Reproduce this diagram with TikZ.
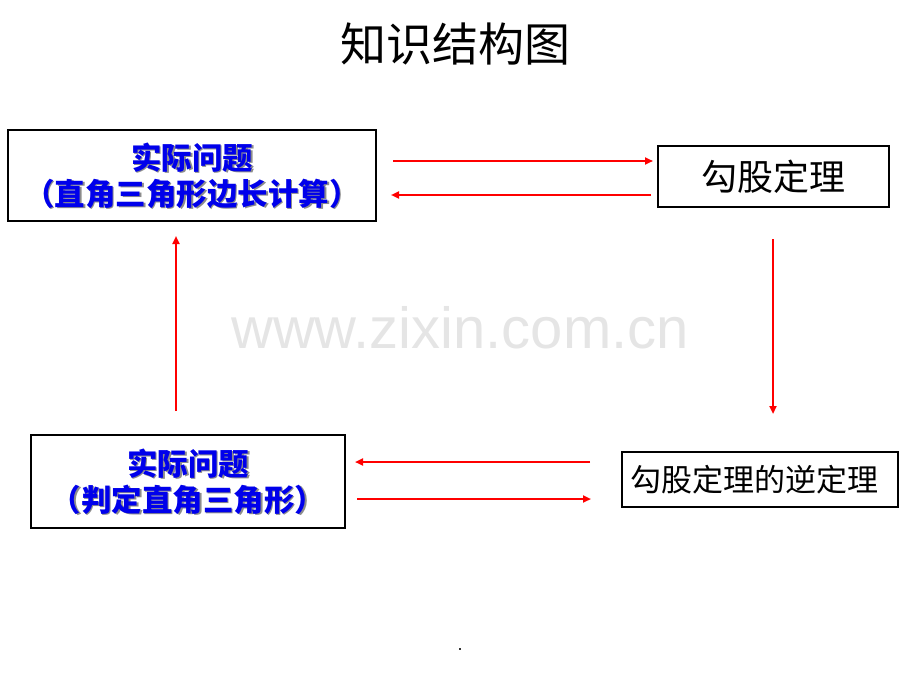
\documentclass[tikz,border=0pt]{standalone}
\usepackage{fontspec}
\setmainfont{Liberation Sans}
\newfontfamily\cjk{Noto Sans CJK SC}
\usetikzlibrary{arrows.meta}
\tikzset{
  boxnode/.style={draw=black, line width=2.4pt, inner sep=0pt, fill=white},
  redarrow/.style={draw=red, line width=2pt, -{Triangle[length=8pt,width=7pt]}},
  bluetext/.style={font=\cjk\bfseries\fontsize{30.5}{36}\selectfont, text=blue!92!black, align=center},
  shadowtext/.style={font=\cjk\bfseries\fontsize{30.5}{36}\selectfont, text=black!45, align=center}
}
\begin{document}
\begin{tikzpicture}[x=1pt,y=-1pt]
\useasboundingbox (0,0) rectangle (920,690);
% title
\node[font=\cjk\fontsize{46}{54}\selectfont] (title) at (455,44) {知识结构图};
% watermark
\node[font=\fontsize{58}{66}\selectfont, text=black!10] (wm) at (460,328) {www.zixin.com.cn};
% boxes
\node[boxnode, minimum width=368pt, minimum height=91pt] (b1) at (192,175.5) {};
\node[shadowtext] at (193.5,177) {实际问题\\（直角三角形边长计算）};
\node[bluetext] (t1) at (192,175.5) {实际问题\\（直角三角形边长计算）};
\node[boxnode, minimum width=231pt, minimum height=61pt, font=\cjk\fontsize{36}{42}\selectfont] (b2) at (773.5,176.5) {勾股定理};
\node[boxnode, minimum width=314pt, minimum height=93pt] (b3) at (188,481.5) {};
\node[shadowtext] at (189.5,483) {实际问题\\（判定直角三角形）};
\node[bluetext] (t3) at (188,481.5) {实际问题\\（判定直角三角形）};
\node[boxnode, minimum width=276pt, minimum height=55pt] (b4) at (760,479.5) {};
\node[font=\cjk\fontsize{31}{36}\selectfont] (t4) at (754,479.5) {勾股定理的逆定理};
% arrow anchor coordinates
\coordinate (a1s) at (393,161); \coordinate (a1e) at (653,161);
\coordinate (a2s) at (651,195); \coordinate (a2e) at (391,195);
\coordinate (a3s) at (773,239); \coordinate (a3e) at (773,414);
\coordinate (a4s) at (590,462); \coordinate (a4e) at (355,462);
\coordinate (a5s) at (357,499); \coordinate (a5e) at (591,499);
\coordinate (a6s) at (176,411); \coordinate (a6e) at (176,236);
\draw[redarrow] (a1s) -- (a1e);
\draw[redarrow] (a2s) -- (a2e);
\draw[redarrow] (a3s) -- (a3e);
\draw[redarrow] (a4s) -- (a4e);
\draw[redarrow] (a5s) -- (a5e);
\draw[redarrow] (a6s) -- (a6e);
% dot
\fill[black!80] (459,648) rectangle (461,650);
\end{tikzpicture}
\end{document}
